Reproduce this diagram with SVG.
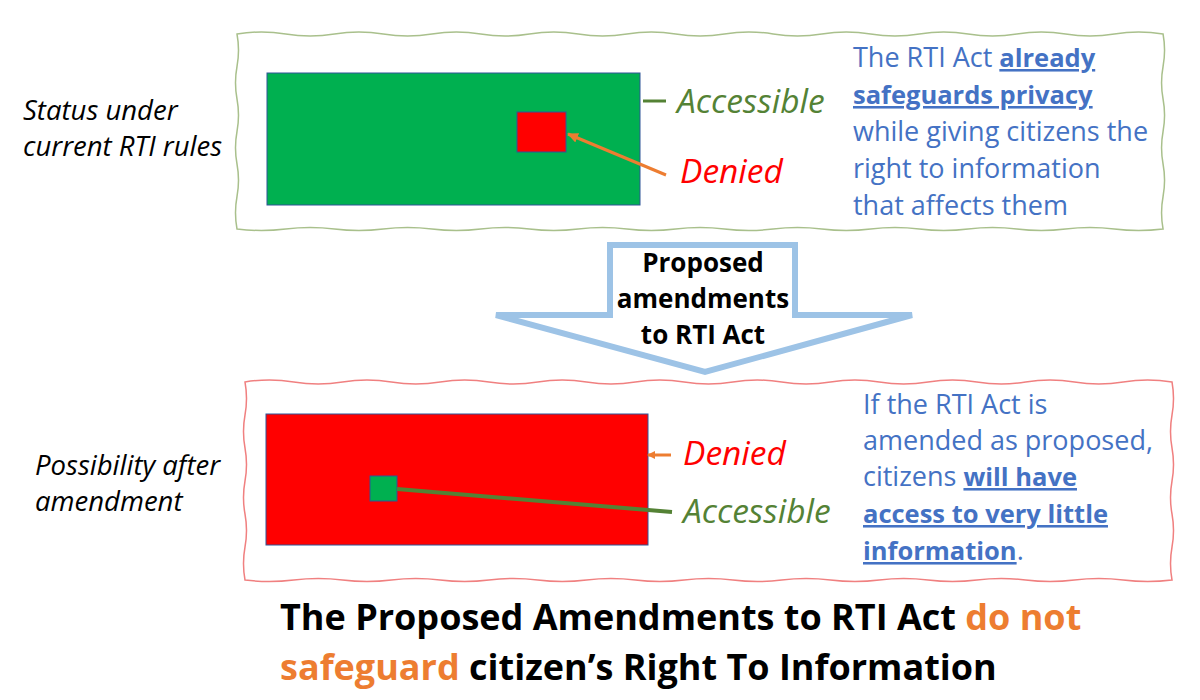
<svg xmlns="http://www.w3.org/2000/svg" width="1200" height="700" viewBox="0 0 1200 700">
<style>
text{font-family:"Open Sans",Lato,"Noto Sans",sans-serif}
.lbl{font-size:27.5px;font-style:italic;fill:#000}
.acc{font-size:33.5px;font-style:italic;fill:#548235}
.den{font-size:33.5px;font-style:italic;fill:#FF0000}
.desc{font-size:27px;fill:#4472C4}
.b{font-weight:bold;text-decoration:underline;font-size:25.5px}
.arrtxt{font-size:26px;font-weight:bold;fill:#000;text-anchor:middle}
.title{font-size:36px;font-weight:bold;fill:#000}
.or{fill:#ED7D31}
</style>
<defs>
<marker id="ah" markerWidth="8" markerHeight="8" refX="7" refY="4" orient="auto" markerUnits="userSpaceOnUse"><path d="M0,0 L8,4 L0,8 z" fill="#ED7D31"/></marker>
<marker id="ah2" markerWidth="11" markerHeight="10" refX="10" refY="5" orient="auto" markerUnits="userSpaceOnUse"><path d="M0,0 L11,5 L0,10 z" fill="#ED7D31"/></marker>
</defs>
<rect width="1200" height="700" fill="#fff"/>
<g id="current-box">
<path d="M237,34 q24.37,-4 48.74,0 t48.74,0 t48.74,0 t48.74,0 t48.74,0 t48.74,0 t48.74,0 t48.74,0 t48.74,0 t48.74,0 t48.74,0 t48.74,0 t48.74,0 t48.74,0 t48.74,0 t48.74,0 t48.74,0 t48.74,0 t48.74,0 q3,16.25 0,32.5 t0,32.5 t0,32.5 t0,32.5 t0,32.5 t0,32.5 q-24.37,3 -48.74,0 t-48.74,0 t-48.74,0 t-48.74,0 t-48.74,0 t-48.74,0 t-48.74,0 t-48.74,0 t-48.74,0 t-48.74,0 t-48.74,0 t-48.74,0 t-48.74,0 t-48.74,0 t-48.74,0 t-48.74,0 t-48.74,0 t-48.74,0 t-48.74,0 q-3,-16.25 0,-32.5 t0,-32.5 t0,-32.5 t0,-32.5 t0,-32.5 t0,-32.5 z" fill="none" stroke="#A9C08C" stroke-width="1.5"/>
<rect x="267" y="73" width="373" height="132" fill="#00B050" stroke="#2F5597" stroke-width="1"/>
<rect x="517" y="112" width="49" height="40" fill="#FF0000" stroke="#2F5597" stroke-width="1"/>
<text class="acc" x="677" y="113">Accessible</text>
<text class="den" x="680" y="183">Denied</text>
<text class="desc" x="853" y="67">The RTI Act <tspan class="b">already</tspan></text>
<text class="desc" x="853" y="104"><tspan class="b">safeguards privacy</tspan></text>
<text class="desc" x="853" y="141">while giving citizens the</text>
<text class="desc" x="853" y="178">right to information</text>
<text class="desc" x="853" y="215">that affects them</text>
</g>
<g id="current-label">
<text class="lbl" x="23" y="120">Status under</text>
<text class="lbl" x="23" y="156">current RTI rules</text>
</g>
<g id="amend-arrow">
<polygon points="610,245 795,245 795,315 912,315 705,372 496,315 610,315" fill="#fff" stroke="#9DC3E6" stroke-width="6" stroke-linejoin="miter"/>
<text class="arrtxt" x="703" y="272">Proposed</text>
<text class="arrtxt" x="703" y="308">amendments</text>
<text class="arrtxt" x="703" y="344">to RTI Act</text>
</g>
<g id="after-box">
<path d="M245,382 q24.4,-4 48.79,0 t48.79,0 t48.79,0 t48.79,0 t48.79,0 t48.79,0 t48.79,0 t48.79,0 t48.79,0 t48.79,0 t48.79,0 t48.79,0 t48.79,0 t48.79,0 t48.79,0 t48.79,0 t48.79,0 t48.79,0 t48.79,0 q3,16.5 0,33 t0,33 t0,33 t0,33 t0,33 t0,33 q-24.4,3 -48.79,0 t-48.79,0 t-48.79,0 t-48.79,0 t-48.79,0 t-48.79,0 t-48.79,0 t-48.79,0 t-48.79,0 t-48.79,0 t-48.79,0 t-48.79,0 t-48.79,0 t-48.79,0 t-48.79,0 t-48.79,0 t-48.79,0 t-48.79,0 t-48.79,0 q-3,-16.5 0,-33 t0,-33 t0,-33 t0,-33 t0,-33 t0,-33 z" fill="none" stroke="#F08080" stroke-width="1.5"/>
<rect x="266" y="414" width="382" height="131" fill="#FF0000" stroke="#2F5597" stroke-width="1"/>
<rect x="370" y="476" width="27" height="25" fill="#00B050" stroke="#2F5597" stroke-width="1"/>
<text class="den" x="683" y="465">Denied</text>
<text class="acc" x="683" y="523">Accessible</text>
<text class="desc" x="863" y="414">If the RTI Act is</text>
<text class="desc" x="863" y="450">amended as proposed,</text>
<text class="desc" x="863" y="486">citizens <tspan class="b">will have</tspan></text>
<text class="desc" x="863" y="523"><tspan class="b">access to very little</tspan></text>
<text class="desc" x="863" y="560"><tspan class="b">information</tspan>.</text>
</g>
<g id="after-label">
<text class="lbl" x="35" y="475">Possibility after</text>
<text class="lbl" x="35" y="511">amendment</text>
</g>
<g id="connectors">
<line x1="643" y1="101" x2="666" y2="101" stroke="#548235" stroke-width="3"/>
<line x1="666" y1="175" x2="568" y2="134" stroke="#ED7D31" stroke-width="3" marker-end="url(#ah2)"/>
<line x1="671" y1="455" x2="648" y2="455" stroke="#ED7D31" stroke-width="3" marker-end="url(#ah)"/>
<line x1="397" y1="489" x2="672" y2="512" stroke="#548235" stroke-width="4"/>
</g>
<g id="title">
<text class="title" x="280" y="630">The Proposed Amendments to RTI Act <tspan class="or">do not</tspan></text>
<text class="title" x="280" y="680"><tspan class="or">safeguard</tspan> citizen’s Right To Information</text>
</g>
</svg>
